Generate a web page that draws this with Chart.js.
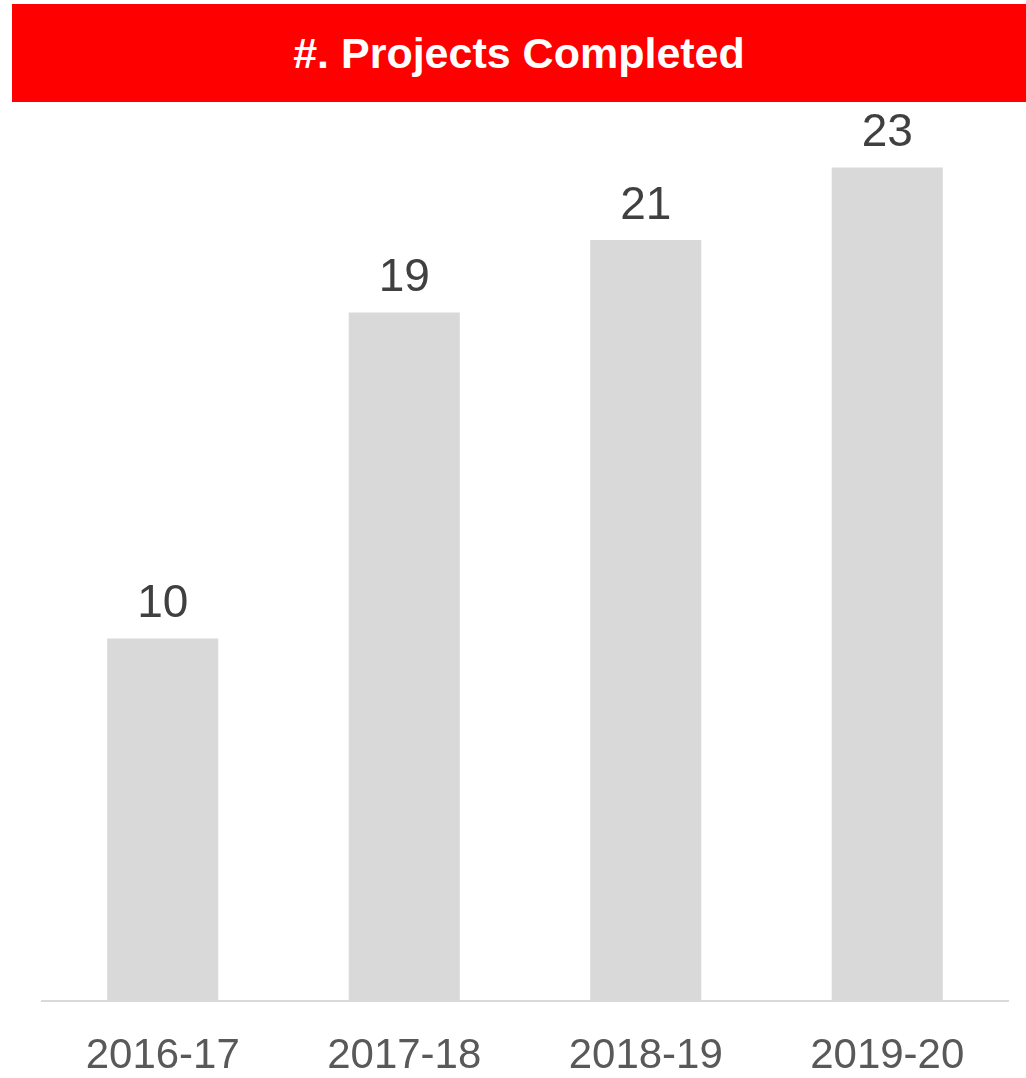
<!DOCTYPE html>
<html>
<head>
<meta charset="utf-8">
<script src="https://cdn.jsdelivr.net/npm/chart.js@4"></script>
<style>
  html, body { margin: 0; padding: 0; background: #ffffff; }
  #wrap { position: relative; width: 1026px; height: 1078px; }
  #banner {
    position: absolute; left: 12px; top: 4px; width: 1014px; height: 98px;
    background: #ff0000; color: #ffffff;
    font-family: "Liberation Sans", Arial, sans-serif; font-weight: bold; font-size: 43px;
    display: flex; align-items: center; justify-content: center;
  }
  canvas { position: absolute; left: 0; top: 0; }
</style>
</head>
<body>
<div id="wrap">
  <canvas id="projectsChart" width="1026" height="1078"></canvas>
  <div id="banner">#. Projects Completed</div>
</div>
<script>
// chart data
const years = ['2016-17', '2017-18', '2018-19', '2019-20'];
const projectsCompleted = [10, 19, 21, 23];

// draws the number above each bar
const valueLabels = {
  id: 'valueLabels',
  afterDatasetsDraw(chart) {
    const ctx = chart.ctx;
    const meta = chart.getDatasetMeta(0);
    ctx.save();
    ctx.fillStyle = '#404040';
    ctx.font = '46px "Liberation Sans", Arial, sans-serif';
    ctx.textAlign = 'center';
    ctx.textBaseline = 'bottom';
    meta.data.forEach((bar, i) => {
      ctx.fillText(projectsCompleted[i], bar.x, bar.y - 11);
    });
    ctx.restore();
  }
};

const ctx = document.getElementById('projectsChart').getContext('2d');

new Chart(ctx, {
  type: 'bar',
  data: {
    labels: years,
    datasets: [{
      data: projectsCompleted,
      backgroundColor: '#d9d9d9',
      borderWidth: 0,
      categoryPercentage: 1,
      barPercentage: 0.46
    }]
  },
  options: {
    responsive: false,
    animation: false,
    layout: { padding: { left: 42, right: 18, top: 95, bottom: 0 } },
    plugins: {
      legend: { display: false },
      tooltip: { enabled: false }
    },
    scales: {
      x: {
        grid: { display: false, drawTicks: false },
        border: { display: true, color: '#d9d9d9', width: 2 },
        ticks: {
          color: '#595959',
          padding: 34,
          font: { family: '"Liberation Sans", Arial, sans-serif', size: 42, lineHeight: 1 }
        },
        // keep the plot bottom where the reference has it
        afterFit(axis) { axis.height = 77; }
      },
      y: {
        display: false,
        min: 0,
        max: 25
      }
    }
  },
  plugins: [valueLabels]
});
</script>
</body>
</html>
